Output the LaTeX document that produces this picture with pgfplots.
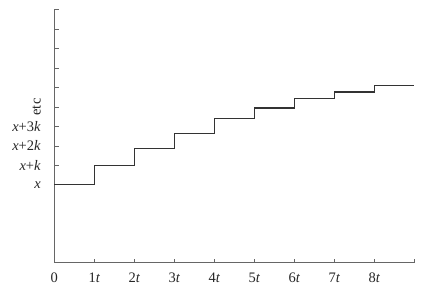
\documentclass[border=0pt]{standalone}
\usepackage{fontspec}
\setmainfont{Liberation Serif}
\usepackage{pgfplots}
\pgfplotsset{compat=1.18}
\begin{document}
\begin{tikzpicture}
\begin{axis}[
  scale only axis, width=360pt, height=253pt,
  xmin=0, xmax=9, ymin=0, ymax=13,
  axis x line=bottom, axis y line=left,
  axis line style={-, color=black!60, line width=0.8pt},
  tick style={color=black!60, line width=0.8pt},
  tick align=inside, major tick length=5pt,
  xtick style={/pgfplots/major tick length=3.5pt},
  xtick={0,1,...,9},
  xticklabels={0,1\textit{t},2\textit{t},3\textit{t},4\textit{t},5\textit{t},6\textit{t},7\textit{t},8\textit{t},{}},
  ytick={4,5,...,13},
  yticklabels={\textit{x},\textit{x}+\textit{k},\textit{x}+2\textit{k},\textit{x}+3\textit{k},\rotatebox{90}{etc},{},{},{},{},{}},
  ticklabel style={font=\fontsize{14.5}{16}\selectfont, text=black!85},
  xticklabel style={yshift=-7pt},
  yticklabel style={xshift=-10pt},
  clip=false,
]
\addplot[const plot, color=black!80, line width=1.2pt] coordinates {
  (0,4) (1,5) (2,5.85) (3,6.65) (4,7.4) (5,7.95) (6,8.43) (7,8.77) (8,9.1) (9,9.1)
};
\end{axis}
\pgfresetboundingbox
\path (current axis.south west) ++(-54.3pt,-29.3pt) rectangle +(428pt,292pt);
\end{tikzpicture}
\end{document}
